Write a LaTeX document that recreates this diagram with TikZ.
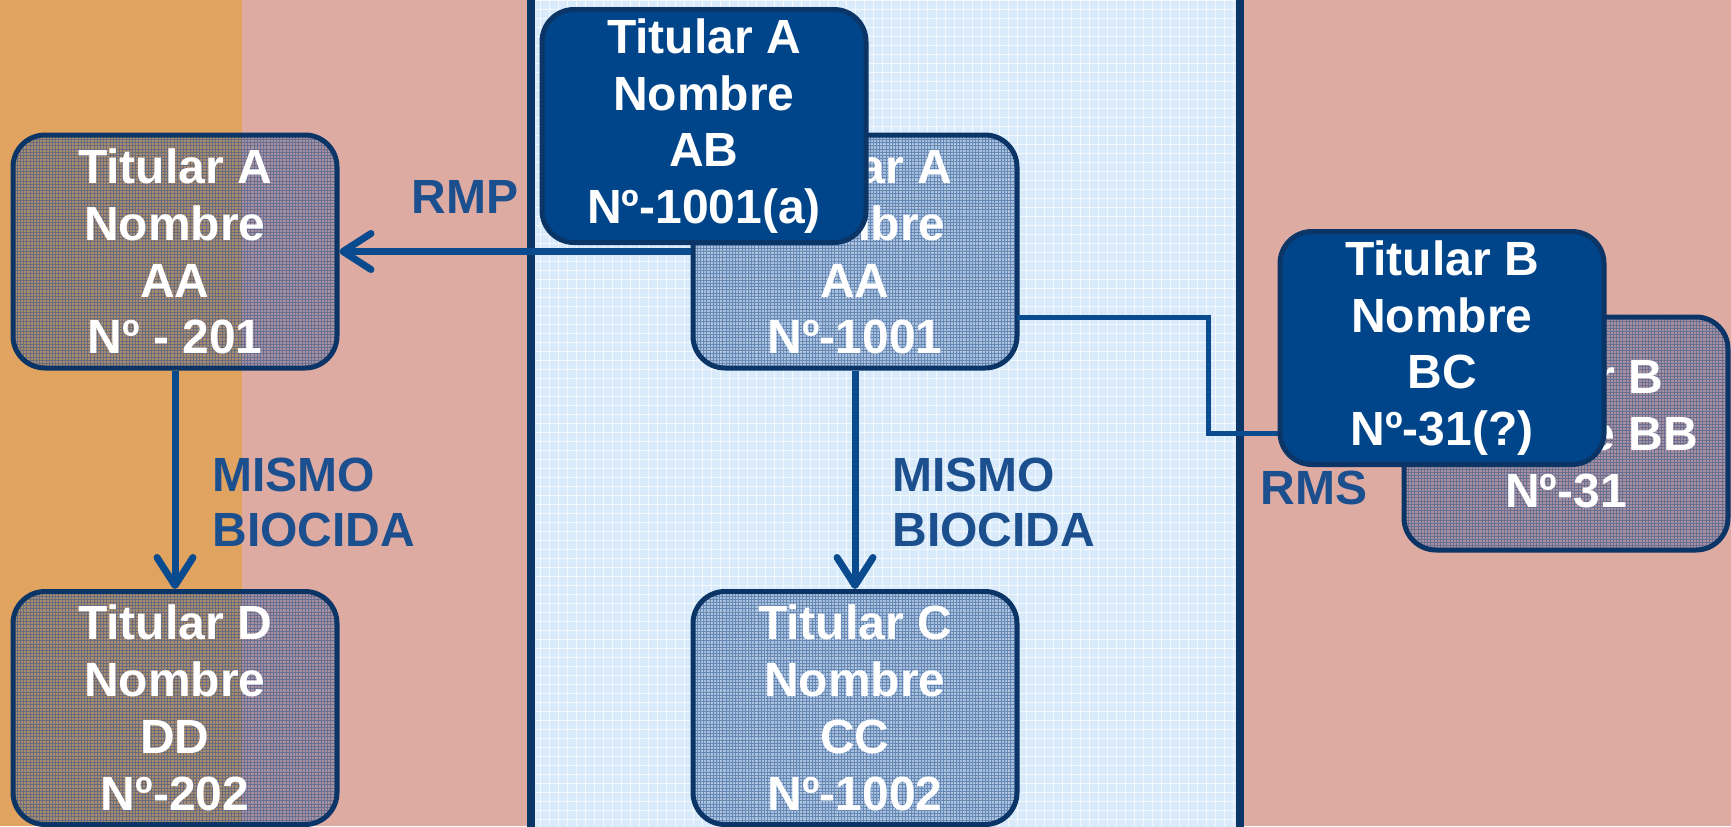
\documentclass[tikz,border=0pt]{standalone}
\usepackage{fontspec}
\setmainfont{Liberation Sans}
\usetikzlibrary{arrows.meta}

\begin{document}
\begin{tikzpicture}[x=0.5pt,y=-0.5pt,
  holder/.style={draw=boxEdge,line width=2.5pt,rounded corners=16pt,
    minimum width=162pt,minimum height=116.5pt,inner sep=0pt,
    text=white,align=center,font=\fontsize{24}{28.4}\selectfont\bfseries},
  holderSolid/.style={holder,fill=boxSolid},
  holderGlass/.style={holder,fill=glassBlue,fill opacity=0.28,text opacity=1,
    path picture={\draw[glassBlue,line width=0.45pt,opacity=0.5,step=1.6pt]
      (path picture bounding box.south west) grid (path picture bounding box.north east);}},
  link/.style={draw=linkBlue,line width=3.5pt,
    -{Straight Barb[length=14pt,width=18pt,round]}},
  tag/.style={text=labelBlue,inner sep=0pt,
    font=\fontsize{24}{27.5}\selectfont\bfseries}]
\definecolor{bandOrange}{HTML}{E0A460}
\definecolor{bandPink}{HTML}{DEABA3}
\definecolor{panelBlue}{HTML}{D9EAFB}
\definecolor{panelEdge}{HTML}{0B3566}
\definecolor{boxEdge}{HTML}{0B3566}
\definecolor{boxSolid}{HTML}{00458A}
\definecolor{glassBlue}{HTML}{24508F}
\definecolor{linkBlue}{HTML}{0A4A8E}
\definecolor{labelBlue}{HTML}{1C4F8E}
\useasboundingbox (0,0) rectangle (1731,826);
% background bands
\fill[bandOrange] (0,0) rectangle (242,826);
\fill[bandPink] (242,0) rectangle (1731,826);
\fill[panelBlue] (531,-10) rectangle (1240,836);
\draw[white,line width=0.4pt,opacity=0.7,step=4.5pt] (531,0) grid (1240,826);
\draw[panelEdge,line width=4pt] (531,-10) rectangle (1240,836);
% boxes
\node[holderGlass] (b201) at (175,251.5) {Titular A\\Nombre\\AA\\Nº - 201};
\node[holderGlass] (b202) at (175,708) {Titular D\\Nombre\\DD\\Nº-202};
\node[holderGlass] (b1001) at (855,251.5) {Titular A\\Nombre\\AA\\Nº-1001};
\node[holderGlass] (b1002) at (855,708) {Titular C\\Nombre\\CC\\Nº-1002};
\node[holderGlass] (b31) at (1566,433.5) {Titular B\\Nombre BB\\Nº-31};
% connectors
\draw[link] (b1001.west) -- (b201.east);
\draw[link] (b201.south) -- (b202.north);
\draw[link] (b1001.south) -- (b1002.north);
\coordinate (rmsStart) at (1017,317);
\coordinate (rmsKnee) at (1208,317);
\coordinate (rmsLevel) at (0,433);
\node[holderSolid] (b1001a) at (704,126) {Titular A\\Nombre\\AB\\Nº-1001(a)};
\draw[draw=linkBlue,line width=2.5pt] (rmsStart) -- (rmsKnee) |- (b31.west |- rmsLevel);
\node[holderSolid] (b31q) at (1442,348) {Titular B\\Nombre\\BC\\Nº-31(?)};
% labels
\node[tag] (rmp) at (465,197) {RMP};
\node[tag,align=left,anchor=west] (same1) at (212,502) {MISMO\\BIOCIDA};
\node[tag,align=left,anchor=west] (same2) at (892,502) {MISMO\\BIOCIDA};
\node[tag] (rms) at (1314,488) {RMS};
\end{tikzpicture}
\end{document}
